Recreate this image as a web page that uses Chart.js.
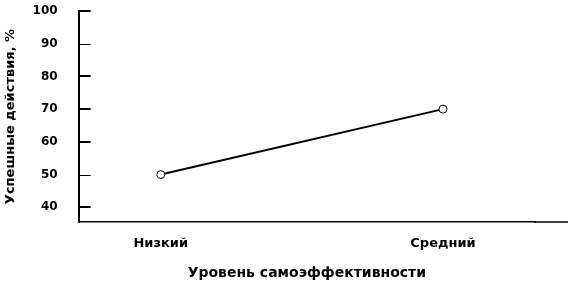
<!DOCTYPE html>
<html>
<head>
<meta charset="utf-8">
<script src="https://cdn.jsdelivr.net/npm/chart.js@4/dist/chart.umd.min.js"></script>
<style>
  html, body { margin: 0; padding: 0; background: #fff; }
  #chart { display: block; }
</style>
</head>
<body>
<canvas id="chart" width="575" height="286"></canvas>
<script>
// Data
const categories = ['Низкий', 'Средний'];
const successRate = [50, 70];
const yTickValues = [40, 50, 60, 70, 80, 90, 100];
const thinTickValues = [50, 90];

const FAMILY = '"DejaVu Sans", sans-serif';

// Tick marks point inward, and the bottom axis runs a little past the plot area
const axisDecor = {
  id: 'axisDecor',
  afterDraw(chart) {
    const { ctx, chartArea, scales } = chart;
    const y = scales.y;
    ctx.save();
    ctx.strokeStyle = '#000';
    yTickValues.forEach(v => {
      const thin = thinTickValues.includes(v);
      const py = Math.round(y.getPixelForValue(v)) + (thin ? 0.5 : 0);
      ctx.lineWidth = thin ? 1 : 2;
      ctx.beginPath();
      ctx.moveTo(chartArea.left, py);
      ctx.lineTo(chartArea.left + 12, py);
      ctx.stroke();
    });
    ctx.lineWidth = 1.5;
    ctx.beginPath();
    ctx.moveTo(chartArea.right - 1, chartArea.bottom);
    ctx.lineTo(chartArea.right + 33, chartArea.bottom);
    ctx.stroke();
    ctx.restore();
  }
};

new Chart(document.getElementById('chart'), {
  type: 'line',
  data: {
    datasets: [{
      data: successRate.map((v, i) => ({ x: i + 1, y: v })),
      borderColor: '#000',
      borderWidth: 2,
      pointRadius: 4,
      pointBackgroundColor: '#fff',
      pointBorderColor: '#000',
      pointBorderWidth: 1,
      tension: 0
    }]
  },
  options: {
    responsive: false,
    animation: false,
    layout: { padding: { top: 11, right: 40, left: 0, bottom: 4.6 } },
    plugins: { legend: { display: false }, tooltip: { enabled: false } },
    scales: {
      x: {
        type: 'linear',
        min: 0.709,
        max: 2.326,
        afterBuildTicks: (scale) => { scale.ticks = categories.map((c, i) => ({ value: i + 1 })); },
        grid: { drawOnChartArea: false, color: 'rgba(0,0,0,0)', tickLength: 14 },
        border: { display: true, color: '#000', width: 1.5 },
        ticks: {
          color: '#000',
          font: { family: FAMILY, size: 13, weight: 'bold' },
          padding: 0,
          maxRotation: 0,
          callback: (v) => categories[v - 1]
        },
        title: {
          display: true,
          text: 'Уровень самоэффективности',
          color: '#000',
          font: { family: FAMILY, size: 14, weight: 'bold' },
          padding: { top: 13, bottom: 0 }
        }
      },
      y: {
        min: 35.5,
        max: 100,
        afterBuildTicks: (scale) => { scale.ticks = yTickValues.map(v => ({ value: v })); },
        grid: { drawOnChartArea: false, color: 'rgba(0,0,0,0)', tickLength: 21 },
        border: { display: true, color: '#000', width: 2 },
        ticks: {
          color: '#000',
          font: { family: FAMILY, size: 12, weight: 'bold' },
          padding: 0
        },
        title: {
          display: true,
          text: 'Успешные действия, %',
          color: '#000',
          font: { family: FAMILY, size: 13, weight: 'bold' },
          padding: { top: 3, bottom: 14 }
        }
      }
    }
  },
  plugins: [axisDecor]
});
</script>
</body>
</html>
